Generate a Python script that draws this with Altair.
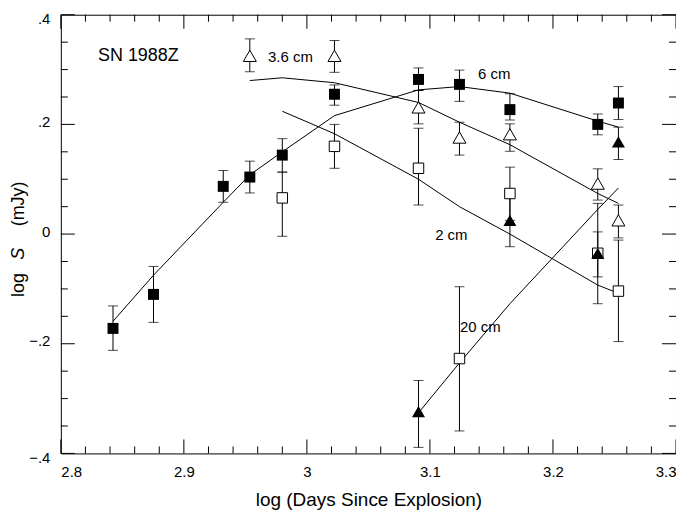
import altair as alt
import pandas as pd

# ---- data ----
log_days = [2.8424, 2.8753, 2.932, 2.9536, 2.980, 3.0224, 3.0907, 3.124, 3.165, 3.2364, 3.2532]

# 6 cm (filled squares), all epochs
s6_y = [-0.172, -0.110, 0.087, 0.104, 0.144, 0.255, 0.282, 0.273, 0.227, 0.200, 0.239]
s6_hi = [-0.131, -0.059, 0.116, 0.133, 0.174, 0.272, 0.303, 0.299, 0.256, 0.219, 0.269]
s6_lo = [-0.212, -0.161, 0.058, 0.075, 0.113, 0.235, 0.262, 0.242, 0.208, 0.181, 0.209]
m6_y = [-0.159, -0.075, 0.058, 0.108, 0.150, 0.216, 0.263, 0.269, 0.257, 0.206, 0.195]

# 3.6 cm (open triangles)
x36 = [2.9536, 3.0224, 3.0907, 3.124, 3.165, 3.2364, 3.2532]
s36_y = [0.325, 0.325, 0.231, 0.176, 0.182, 0.092, 0.025]
s36_hi = [0.356, 0.353, 0.262, 0.204, 0.201, 0.119, 0.053]
s36_lo = [0.296, 0.295, 0.201, 0.144, 0.151, 0.062, -0.007]
m36_y = [0.280, 0.285, 0.276, 0.240, 0.204, 0.163, 0.074, 0.056]
m36_x = [2.9536, 2.980, 3.0224, 3.0907, 3.124, 3.165, 3.2364, 3.2532]

# 2 cm (open squares)
x2 = [2.980, 3.0224, 3.0907, 3.124, 3.165, 3.2364, 3.2532]
s2_y = [0.066, 0.160, 0.120, -0.227, 0.074, -0.035, -0.104]
s2_hi = [0.113, 0.200, 0.193, -0.096, 0.122, 0.056, -0.011]
s2_lo = [-0.004, 0.120, 0.053, -0.359, 0.025, -0.127, -0.196]
m2_y = [0.224, 0.183, 0.100, 0.050, 0.000, -0.093, -0.108]

# 20 cm (filled triangles)
x20 = [3.0907, 3.165, 3.2364, 3.2532]
s20_y = [-0.324, 0.025, -0.035, 0.168]
s20_hi = [-0.267, 0.074, 0.004, 0.195]
s20_lo = [-0.389, -0.023, -0.078, 0.136]
m20_x = [3.0907, 3.124, 3.165, 3.2364, 3.2532]
m20_y = [-0.326, -0.235, -0.127, 0.045, 0.084]

# annotations
ann_text = ["SN 1988Z", "3.6 cm", "6 cm", "2 cm", "20 cm"]
ann_x = [2.863, 2.9866, 3.1522, 3.1174, 3.141]
ann_y = [0.325, 0.322, 0.291, -0.002, -0.170]
ann_fs = [18, 15, 15, 15, 15]

# axis ticks
x_major = [2.8, 2.9, 3.0, 3.1, 3.2, 3.3]
x_minor = [2.82, 2.84, 2.86, 2.88, 2.92, 2.94, 2.96, 2.98, 3.02, 3.04, 3.06, 3.08,
           3.12, 3.14, 3.16, 3.18, 3.22, 3.24, 3.26, 3.28]
y_major = [-0.4, -0.2, 0.0, 0.2, 0.4]
y_minor = [-0.35, -0.3, -0.25, -0.15, -0.1, -0.05, 0.05, 0.1, 0.15, 0.25, 0.3, 0.35]

# y title pieces
ytitle_text = ["log", "S", "(mJy)"]
ytitle_y = [-0.093, -0.036, 0.055]
ytitle_style = ["normal", "italic", "normal"]

W, H = 617, 440
FONT = "Liberation Sans"

xs = alt.Scale(domain=[2.8, 3.3], nice=False, zero=False)
ys = alt.Scale(domain=[-0.4, 0.4], nice=False, zero=False)

df6 = pd.DataFrame({"x": log_days, "y": s6_y, "lo": s6_lo, "hi": s6_hi})
df36 = pd.DataFrame({"x": x36, "y": s36_y, "lo": s36_lo, "hi": s36_hi})
df2 = pd.DataFrame({"x": x2, "y": s2_y, "lo": s2_lo, "hi": s2_hi})
df20 = pd.DataFrame({"x": x20, "y": s20_y, "lo": s20_lo, "hi": s20_hi})

models = pd.concat([
    pd.DataFrame({"x": log_days, "y": m6_y, "band": "6 cm"}),
    pd.DataFrame({"x": m36_x, "y": m36_y, "band": "3.6 cm"}),
    pd.DataFrame({"x": x2, "y": m2_y, "band": "2 cm"}),
    pd.DataFrame({"x": m20_x, "y": m20_y, "band": "20 cm"}),
])

xaxis = alt.Axis(values=x_major, ticks=False, domain=False, grid=False,
                 labelExpr="datum.value == 3 ? '3' : format(datum.value, '.1f')",
                 labelFont=FONT, labelFontSize=15, labelColor="black", labelPadding=11,
                 title="log (Days Since Explosion)", titleFont=FONT, titleFontSize=19,
                 titleFontWeight="normal", titleColor="black", titlePadding=11)
yaxis = alt.Axis(values=y_major, ticks=False, domain=False, grid=False,
                 labelExpr="datum.value == 0 ? '0' : replace(format(datum.value, '.1f'), '0.', '.')",
                 labelBaseline={"condition": {"test": "abs(datum.value) > 0.39", "value": "top"},
                                "value": "middle"},
                 labelOffset=-3,
                 labelFont=FONT, labelFontSize=15, labelColor="black", labelPadding=11,
                 title=None)

base = alt.Chart(models).mark_line(color="black", strokeWidth=1).encode(
    x=alt.X("x:Q", scale=xs, axis=xaxis),
    y=alt.Y("y:Q", scale=ys, axis=yaxis),
    detail="band:N",
)


def errorbars(df):
    bar = alt.Chart(df).mark_rule(color="black", strokeWidth=1).encode(
        x="x:Q", y="lo:Q", y2="hi:Q")
    cap_lo = alt.Chart(df).mark_tick(color="black", thickness=1, size=10, orient="horizontal").encode(
        x="x:Q", y="lo:Q")
    cap_hi = alt.Chart(df).mark_tick(color="black", thickness=1, size=10, orient="horizontal").encode(
        x="x:Q", y="hi:Q")
    return [bar, cap_lo, cap_hi]


layers = [base]
for d in (df6, df36, df2, df20):
    layers += errorbars(d)

layers.append(alt.Chart(df2).mark_point(shape="square", filled=True, fill="white", stroke="black",
                                        strokeWidth=1, size=110, opacity=1).encode(x="x:Q", y="y:Q"))
layers.append(alt.Chart(df36).mark_point(shape="triangle-up", filled=True, fill="white", stroke="black",
                                         strokeWidth=1, size=170, opacity=1).encode(x="x:Q", y="y:Q"))
layers.append(alt.Chart(df6).mark_point(shape="square", filled=True, color="black",
                                        size=121, opacity=1).encode(x="x:Q", y="y:Q"))
layers.append(alt.Chart(df20).mark_point(shape="triangle-up", filled=True, color="black",
                                         size=170, opacity=1).encode(x="x:Q", y="y:Q"))

ann = pd.DataFrame({"x": ann_x, "y": ann_y, "t": ann_text, "fs": ann_fs})
layers.append(alt.Chart(ann).mark_text(font=FONT, color="black", align="center", baseline="middle").encode(
    x="x:Q", y="y:Q", text="t:N", size=alt.Size("fs:Q", scale=None, legend=None)))

yt = pd.DataFrame({"y": ytitle_y, "t": ytitle_text, "st": ytitle_style})
for style in ("normal", "italic"):
    layers.append(alt.Chart(yt[yt["st"] == style]).mark_text(
        font=FONT, fontSize=18, fontStyle=style, color="black", angle=270,
        align="center", baseline="middle").encode(
        x=alt.value(-42), y="y:Q", text="t:N"))

# inward ticks on all four sides
xM = pd.DataFrame({"v": x_major})
xm = pd.DataFrame({"v": x_minor})
yM = pd.DataFrame({"v": y_major})
ym = pd.DataFrame({"v": y_minor})
for d, L in ((xM, 14), (xm, 7)):
    layers.append(alt.Chart(d).mark_rule(color="black", strokeWidth=1).encode(
        x="v:Q", y=alt.value(H), y2=alt.value(H - L)))
    layers.append(alt.Chart(d).mark_rule(color="black", strokeWidth=1).encode(
        x="v:Q", y=alt.value(0), y2=alt.value(L)))
for d, L in ((yM, 14), (ym, 7)):
    layers.append(alt.Chart(d).mark_rule(color="black", strokeWidth=1).encode(
        y="v:Q", x=alt.value(0), x2=alt.value(L)))
    layers.append(alt.Chart(d).mark_rule(color="black", strokeWidth=1).encode(
        y="v:Q", x=alt.value(W), x2=alt.value(W - L)))

chart = alt.layer(*layers).properties(
    width=W, height=H,
    autosize=alt.AutoSizeParams(type="none"),
    padding={"left": 53, "top": 6, "right": 0, "bottom": 58},
    background="white",
).configure_view(stroke="black", strokeWidth=1)

chart.save("out.html", embed_options={"renderer": "svg", "actions": False})
